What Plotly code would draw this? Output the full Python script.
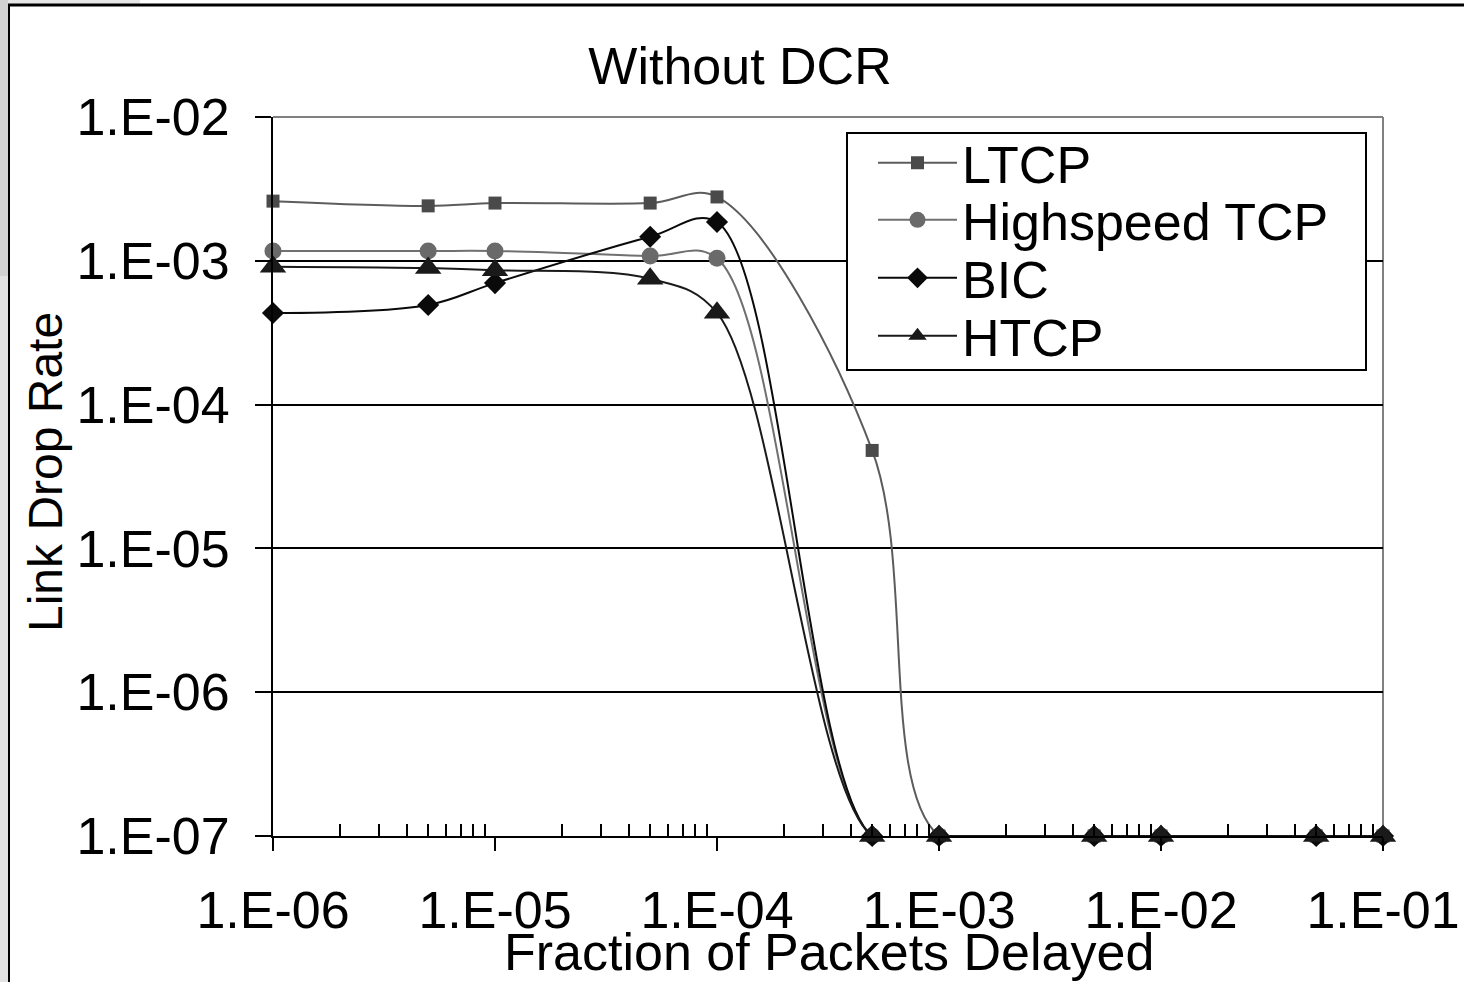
import plotly.graph_objects as go

# ---- data ----
fraction_delayed = [1e-6, 5e-6, 1e-5, 5e-5, 1e-4, 5e-4, 1e-3, 5e-3, 1e-2, 5e-2, 1e-1]
ltcp = [2.6e-3, 2.41e-3, 2.52e-3, 2.52e-3, 2.78e-3, 4.8e-5, 1e-7, 1e-7, 1e-7, 1e-7, 1e-7]
highspeed_tcp = [1.17e-3, 1.17e-3, 1.17e-3, 1.08e-3, 1.04e-3, 1e-7, 1e-7, 1e-7, 1e-7, 1e-7, 1e-7]
bic = [4.33e-4, 4.93e-4, 7.0e-4, 1.47e-3, 1.86e-3, 1e-7, 1e-7, 1e-7, 1e-7, 1e-7, 1e-7]
htcp = [9.1e-4, 8.9e-4, 8.6e-4, 7.5e-4, 4.35e-4, 1e-7, 1e-7, 1e-7, 1e-7, 1e-7, 1e-7]

x_tickvals = [1e-6, 1e-5, 1e-4, 1e-3, 1e-2, 1e-1]
x_ticktext = ["1.E-06", "1.E-05", "1.E-04", "1.E-03", "1.E-02", "1.E-01"]
y_tickvals = [1e-7, 1e-6, 1e-5, 1e-4, 1e-3, 1e-2]
y_ticktext = ["1.E-07", "1.E-06", "1.E-05", "1.E-04", "1.E-03", "1.E-02"]
x_minor_ticks = [k * d for d in [1e-6, 1e-5, 1e-4, 1e-3, 1e-2] for k in range(2, 10)]

FONT = "Liberation Sans, Arial, sans-serif"

# figure geometry (pixels)
W, H = 1464, 982
L, R, T, B = 273, 81, 117, 146
PW, PH = W - L - R, H - T - B
EPS = 1e-5  # tiny range padding so points on the axis edges are kept


def px_x(p):
    return (p - L) / PW


def px_y(p):
    return (H - B - p) / PH


series = [
    ("LTCP", ltcp, "#5c5c5c", "#4a4a4a", "square", 13, 2),
    ("Highspeed TCP", highspeed_tcp, "#707070", "#6a6a6a", "circle", 17, 2),
    ("BIC", bic, "#0a0a0a", "#0a0a0a", "diamond", 17, 2),
    ("HTCP", htcp, "#1a1a1a", "#1a1a1a", "triangle-up", 23, 2),
]
legend_rows = [163, 220, 278, 336]
legend_ids = ["legend", "legend2", "legend3", "legend4"]

fig = go.Figure()
for (name, vals, lcol, mcol, sym, msize, lw), lid in zip(series, legend_ids):
    fig.add_trace(go.Scatter(
        x=fraction_delayed, y=vals, name=name, mode="lines+markers",
        line=dict(color=lcol, width=lw, shape="spline", smoothing=1.0),
        marker=dict(symbol=sym, size=msize, color=mcol, line=dict(width=0)),
        cliponaxis=False, legend=lid,
    ))

legend_common = dict(
    xanchor="left", yanchor="middle", bgcolor="rgba(0,0,0,0)", borderwidth=0,
    font=dict(family=FONT, size=52, color="black"), itemwidth=79,
)
layout_legends = {}
for lid, row in zip(legend_ids, legend_rows):
    layout_legends[lid] = dict(x=px_x(873), y=px_y(row), **legend_common)

fig.update_layout(
    width=W, height=H,
    margin=dict(l=L, r=R, t=T, b=B, autoexpand=False),
    paper_bgcolor="white", plot_bgcolor="white",
    font=dict(family=FONT, color="black", size=52),
    title=dict(text="Without DCR", x=740 / W, xanchor="center", xref="container",
               y=1 - 66 / H, yanchor="middle", yref="container",
               font=dict(family=FONT, size=52, color="black")),
    showlegend=True,
    **layout_legends,
)

fig.update_xaxes(
    type="log", range=[-6 - EPS, -1 + EPS],
    tickmode="array", tickvals=x_tickvals, ticktext=x_ticktext,
    ticks="outside", ticklen=13, tickwidth=2, tickcolor="black",
    ticklabelstandoff=15,
    showline=True, linecolor="black", linewidth=2, mirror=False,
    showgrid=False, zeroline=False,
    minor=dict(tickmode="array", tickvals=x_minor_ticks, ticks="inside",
               ticklen=12, tickwidth=2, tickcolor="black", showgrid=False),
    tickfont=dict(family=FONT, size=52, color="black"),
)

fig.update_yaxes(
    type="log", range=[-7 - EPS, -2 + EPS],
    tickmode="array", tickvals=y_tickvals, ticktext=y_ticktext,
    ticks="outside", ticklen=16, tickwidth=2, tickcolor="black",
    ticklabelstandoff=15,
    showline=True, linecolor="black", linewidth=2,
    showgrid=True, gridcolor="black", gridwidth=1.5,
    zeroline=False,
    tickfont=dict(family=FONT, size=52, color="black"),
)

# axis titles
fig.add_annotation(text="Fraction of Packets Delayed", xref="paper", yref="paper",
                   x=px_x(829), y=px_y(952), xanchor="center", yanchor="middle",
                   showarrow=False, font=dict(family=FONT, size=52, color="black"))
fig.add_annotation(text="Link Drop Rate", xref="paper", yref="paper",
                   x=px_x(45), y=px_y(472), xanchor="center", yanchor="middle",
                   textangle=-90, showarrow=False,
                   font=dict(family=FONT, size=48, color="black"))

# plot-area border (gray, top and right)
fig.add_shape(type="line", xref="paper", yref="paper", x0=0, x1=1, y0=1, y1=1,
              line=dict(color="#808080", width=2), layer="above")
fig.add_shape(type="line", xref="paper", yref="paper", x0=1, x1=1, y0=0, y1=1,
              line=dict(color="#808080", width=2), layer="below")

# legend box
fig.add_shape(type="rect", xref="paper", yref="paper",
              x0=px_x(847), x1=px_x(1366), y0=px_y(370), y1=px_y(133),
              fillcolor="white", line=dict(color="black", width=2), layer="above")

# outer frame details from the screenshot
fig.add_shape(type="rect", xref="paper", yref="paper",
              x0=px_x(0), x1=px_x(8), y0=px_y(982), y1=px_y(0),
              fillcolor="#e2e2e2", line=dict(width=0), layer="below")
fig.add_shape(type="rect", xref="paper", yref="paper",
              x0=px_x(0), x1=px_x(8), y0=px_y(276), y1=px_y(0),
              fillcolor="#d2d2d2", line=dict(width=0), layer="below")
fig.add_shape(type="rect", xref="paper", yref="paper",
              x0=px_x(8), x1=px_x(140), y0=px_y(4), y1=px_y(0),
              fillcolor="#e6e6e6", line=dict(width=0), layer="below")
fig.add_shape(type="line", xref="paper", yref="paper",
              x0=px_x(8), x1=px_x(1464), y0=px_y(5), y1=px_y(5),
              line=dict(color="black", width=3), layer="below")
fig.add_shape(type="line", xref="paper", yref="paper",
              x0=px_x(9), x1=px_x(9), y0=px_y(982), y1=px_y(5),
              line=dict(color="black", width=2), layer="below")

fig.write_html(
    "out.html",
    config={"displayModeBar": False},
    post_script="document.body.style.margin='0';document.body.style.overflow='hidden';",
)
